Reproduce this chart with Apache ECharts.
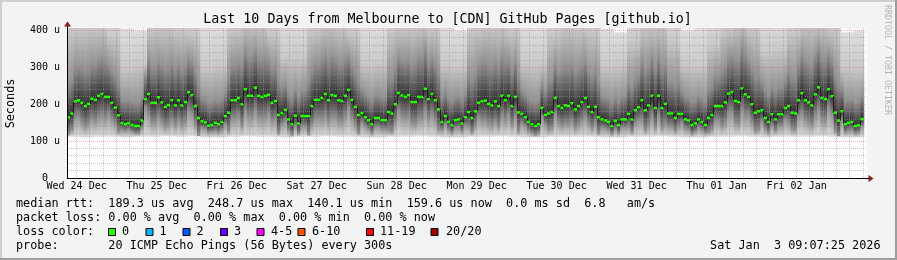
<!DOCTYPE html>
<html><head><meta charset="utf-8">
<script src="https://cdn.jsdelivr.net/npm/echarts@6/dist/echarts.min.js"></script>
<style>html,body{margin:0;padding:0;background:#f3f3f3}#c{width:897px;height:260px}</style>
</head><body><div id="c"></div>
<script>
const FONT = 'DejaVu Sans Mono';

// hourly median RTT (microseconds), Dec 24 09:07 -> Jan 3 09:07
const medianRtt = [
165,175,208,211,204,195,201,215,212,223,228,220,220,204,191,170,149,146,149,144,141,141,156,214,228,204,204,219,205,193,198,211,197,211,197,206,233,225,195,163,
154,151,142,144,150,146,152,168,177,211,211,217,200,241,223,223,245,223,220,223,226,204,209,171,176,185,159,146,169,148,168,168,168,195,212,212,217,228,211,225,223,
211,209,223,239,212,193,171,176,165,157,146,163,163,157,157,179,175,200,231,224,220,225,206,206,220,220,242,214,228,211,186,152,168,152,144,157,159,148,165,179,
163,181,204,208,210,201,197,208,195,223,211,223,195,220,178,174,165,152,146,141,146,190,171,175,179,217,195,190,197,195,203,186,195,206,217,193,179,193,165,159,
156,152,141,155,144,159,159,174,159,184,192,211,184,197,223,190,223,190,201,175,175,163,174,174,159,156,144,148,159,152,144,163,171,195,195,195,205,229,233,209,
206,243,227,220,200,177,181,184,163,152,173,159,173,173,190,195,177,175,211,230,211,205,197,227,246,217,214,241,222,177,156,181,146,150,152,141,143,160];

// smoke distribution, per 4-hour block
const smokeMin = [112,110,112,112,110,112,112,113,112,113,110,110,112,113,112,112,110,112,112,113,112,112,110,110,112,112,113,112,110,110,112,112,113,112,110,110,112,112,112,112,110,110,112,112,113,112,110,110,112,112,113,112,110,112,112,112,113,112,110,110];
const smokeBelow = [45,55,60,45,18,20,55,55,55,50,18,22,50,60,60,50,30,28,50,60,58,50,25,25,50,58,60,55,22,22,40,55,55,52,25,25,45,50,52,45,22,22,35,55,55,35,25,22,40,55,60,50,30,32,45,55,60,50,22,20];
const smokeAbove = [90,95,95,85,62,62,95,100,95,90,62,62,95,105,100,90,70,70,95,105,100,90,62,62,95,95,105,95,65,62,100,105,105,95,62,62,90,105,100,95,62,62,85,105,105,85,62,62,80,95,110,95,75,75,95,105,105,95,62,62];
const smokeQ90 = [405,410,410,385,300,310,410,415,405,395,300,310,405,420,420,395,330,330,405,420,415,395,310,315,405,410,415,405,310,305,405,415,415,400,310,310,395,415,410,400,305,310,375,415,420,375,310,305,365,405,425,405,345,350,400,420,420,405,300,300];
const smokeMax = [490,490,490,470,405,400,490,495,490,480,410,415,490,500,500,480,425,430,490,500,495,480,410,415,490,490,495,480,410,400,490,495,495,480,415,410,480,495,490,480,405,395,460,495,495,465,400,410,460,490,500,490,430,440,485,500,500,490,395,400];

const dayLabels = ['Wed 24 Dec','Thu 25 Dec','Fri 26 Dec','Sat 27 Dec','Sun 28 Dec','Mon 29 Dec','Tue 30 Dec','Wed 31 Dec','Thu 01 Jan','Fri 02 Jan'];
const dayLabelHours = [2.88,26.88,50.88,74.88,98.88,122.88,146.88,170.88,194.88,218.88];
const majorGridHours = [14.88,38.88,62.88,86.88,110.88,134.88,158.88,182.88,206.88,230.88];
const yMajorGrid = [100,200,300,400];
const yMinorGrid = [20,40,60,80,120,140,160,180,220,240,260,280,320,340,360,380];
const lossLegend = [['0','#26ff00'],['1','#00b8ff'],['2','#0059ff'],['3','#5e00ff'],['4-5','#ff00ff'],['6-10','#ff5500'],['11-19','#ff0000'],['20/20','#a10000']];
const lossBoxX = [108,145.5,182.5,220,256.5,297.5,366,430.5];
const lossTextX = [122,159.5,196.5,234,271,312,380,446];

const minorGridHours = [];
for (let h = 2.88; h < 240; h += 4) {
  if (!majorGridHours.some(m => Math.abs(m - h) < 0.01)) minorGridHours.push(+h.toFixed(2));
}

const YMAX = 407;

const smokeData = medianRtt.map((m, i) => {
  const b = Math.floor(i / 4);
  const lo = smokeMin[b];
  const q25 = Math.max(lo + 1, m - smokeBelow[b]);
  const q75 = m + smokeAbove[b];
  const q90 = Math.max(smokeQ90[b], q75 + 5);
  const hi = Math.max(smokeMax[b], q90 + 5);
  return [i, lo, q25, m, q75, q90, hi];
});
const medianData = medianRtt.map((m, i) => [i, m, i > 0 ? medianRtt[i - 1] : m]);

function renderSmoke(params, api) {
  const i = api.value(0);
  const x0 = api.coord([i, 0])[0];
  const x1 = api.coord([i + 1, 0])[0];
  const y = k => api.coord([i, api.value(k)])[1];
  const yLo = y(1), yQ25 = y(2), yMed = y(3), yQ75 = y(4), yQ90 = y(5), yHi = y(6);
  const h = yLo - yHi;
  const off = v => Math.min(1, Math.max(0, (v - yHi) / h));
  const grad = new echarts.graphic.LinearGradient(0, 0, 0, 1, [
    {offset: 0, color: '#dddddd'},
    {offset: off(yQ90), color: '#cacaca'},
    {offset: off(yQ75), color: '#919191'},
    {offset: off(yMed), color: '#323232'},
    {offset: off(yQ25), color: '#919191'},
    {offset: 1, color: '#dddddd'}
  ]);
  return {type: 'rect', shape: {x: x0, y: yHi, width: x1 - x0 + 0.6, height: h}, style: {fill: grad}};
}

function renderMedian(params, api) {
  const i = api.value(0);
  const p = api.coord([i, api.value(1)]);
  const pp = api.coord([i, api.value(2)]);
  const x1 = api.coord([i + 1, 0])[0];
  const xs = Math.floor(p[0]) + 0.5;
  return {type: 'group', children: [
    {type: 'line', shape: {x1: xs, y1: pp[1], x2: xs, y2: p[1]}, style: {stroke: '#202020', lineWidth: 1}},
    {type: 'rect', shape: {x: p[0], y: p[1] - 1.25, width: x1 - p[0], height: 2.5}, style: {fill: '#26ff00'}}
  ]};
}

function vLine(color) {
  return function (params, api) {
    const cs = params.coordSys;
    const x = Math.floor(api.coord([api.value(0), 0])[0]) + 0.5;
    return {type: 'line', shape: {x1: x, y1: cs.y, x2: x, y2: cs.y + cs.height}, style: {stroke: color, lineWidth: 1, lineDash: [1, 1]}};
  };
}
function hLine(color) {
  return function (params, api) {
    const cs = params.coordSys;
    const y = Math.floor(api.coord([0, api.value(1)])[1]) + 0.5;
    return {type: 'line', shape: {x1: cs.x, y1: y, x2: cs.x + cs.width, y2: y}, style: {stroke: color, lineWidth: 1, lineDash: [1, 1]}};
  };
}
const MINOR = 'rgba(150,150,150,0.5)';
const MAJOR = 'rgba(235,80,80,0.42)';

function txt(x, y, text, size) {
  return {type: 'text', x: x, y: y, z: 20, silent: true,
    style: {text: text, fill: '#000', fontFamily: FONT, fontSize: size,
      align: 'left', verticalAlign: 'middle', textAlign: 'left', textVerticalAlign: 'middle'}};
}

const graphics = [
  {type: 'rect', shape: {x: 0, y: 0, width: 897, height: 2}, style: {fill: '#cfcfcf'}, z: 30},
  {type: 'rect', shape: {x: 0, y: 0, width: 2, height: 260}, style: {fill: '#cfcfcf'}, z: 30},
  {type: 'rect', shape: {x: 0, y: 258, width: 897, height: 2}, style: {fill: '#9e9e9e'}, z: 30},
  {type: 'rect', shape: {x: 895, y: 0, width: 2, height: 260}, style: {fill: '#9e9e9e'}, z: 30},
  {type: 'text', x: 447.5, y: 19.5, z: 20, style: {text: 'Last 10 Days from Melbourne to [CDN] GitHub Pages [github.io]', fill: '#000', fontFamily: FONT, fontSize: 13.3, align: 'center', verticalAlign: 'middle', textAlign: 'center', textVerticalAlign: 'middle'}},
  {type: 'text', x: 10.5, y: 103.5, rotation: Math.PI / 2, z: 20, style: {text: 'Seconds', fill: '#000', fontFamily: FONT, fontSize: 11.8, align: 'center', verticalAlign: 'middle', textAlign: 'center', textVerticalAlign: 'middle'}},
  {type: 'text', x: 887.5, y: 5, rotation: -Math.PI / 2, z: 20, style: {text: 'RRDTOOL / TOBI OETIKER', fill: '#b4b4b4', fontFamily: FONT, fontSize: 8.3, align: 'left', verticalAlign: 'middle', textAlign: 'left', textVerticalAlign: 'middle'}},
  txt(16, 203.5, 'median rtt:  189.3 us avg  248.7 us max  140.1 us min  159.6 us now  0.0 ms sd  6.8   am/s', 11.8),
  txt(16, 217.8, 'packet loss: 0.00 % avg  0.00 % max  0.00 % min  0.00 % now', 11.8),
  txt(16, 232.1, 'loss color:', 11.8),
  txt(16, 246.4, 'probe:       20 ICMP Echo Pings (56 Bytes) every 300s', 11.8),
  {type: 'text', x: 880.5, y: 246.4, z: 20, style: {text: 'Sat Jan  3 09:07:25 2026', fill: '#000', fontFamily: FONT, fontSize: 11.8, align: 'right', verticalAlign: 'middle', textAlign: 'right', textVerticalAlign: 'middle'}},
  // axis extensions + arrows
  {type: 'line', z: 20, shape: {x1: 67.5, y1: 28, x2: 67.5, y2: 24}, style: {stroke: '#000', lineWidth: 1}},
  {type: 'line', z: 20, shape: {x1: 867, y1: 178.5, x2: 870, y2: 178.5}, style: {stroke: '#000', lineWidth: 1}},
  {type: 'polygon', z: 21, shape: {points: [[64, 26.5], [71, 26.5], [67.5, 21.5]]}, style: {fill: '#8b1a1a'}},
  {type: 'polygon', z: 21, shape: {points: [[868.5, 175], [868.5, 182], [873.5, 178.5]]}, style: {fill: '#8b1a1a'}}
];
lossLegend.forEach((e, k) => {
  graphics.push({type: 'rect', z: 20, shape: {x: lossBoxX[k] + 0.5, y: 228.5, width: 7, height: 7}, style: {fill: e[1], stroke: '#000', lineWidth: 1}});
  graphics.push(txt(lossTextX[k], 232.1, e[0], 11.8));
});

const chart = echarts.init(document.getElementById('c'), null, {renderer: 'canvas', width: 897, height: 260});
chart.setOption({
  backgroundColor: '#f3f3f3',
  animation: false,
  textStyle: {fontFamily: FONT},
  grid: {left: 67, top: 28, width: 800, height: 150, show: true, backgroundColor: '#ffffff', borderWidth: 0},
  xAxis: {
    type: 'value', min: 0, max: 240, z: 6,
    axisLine: {show: true, onZero: false, lineStyle: {color: '#000', width: 1}},
    axisTick: {show: false},
    splitLine: {show: false},
    axisLabel: {
      customValues: dayLabelHours,
      showMinLabel: true, showMaxLabel: true, hideOverlap: false,
      margin: 3, fontFamily: FONT, fontSize: 10, color: '#000',
      formatter: v => {
        let best = -1, d = 1e9;
        dayLabelHours.forEach((h, k) => { if (Math.abs(h - v) < d) { d = Math.abs(h - v); best = k; } });
        return d < 0.5 ? dayLabels[best] : '';
      }
    }
  },
  yAxis: {
    type: 'value', min: 0, max: YMAX, interval: 100, z: 6,
    axisLine: {show: true, lineStyle: {color: '#000', width: 1}},
    axisTick: {show: false},
    splitLine: {show: false},
    axisLabel: {
      margin: 7, fontFamily: FONT, fontSize: 10, color: '#000',
      formatter: v => v === 0 ? '{z|0}' : (v % 100 === 0 ? v + ' u' : ''),
      rich: {z: {fontFamily: FONT, fontSize: 10, color: '#000', padding: [0, 12, 0, 0]}}
    }
  },
  series: [
    {type: 'custom', name: 'smoke', z: 1, clip: true, silent: true, data: smokeData, encode: {x: 0, y: 3}, renderItem: renderSmoke},
    {type: 'custom', name: 'hminor', z: 3, silent: true, data: yMinorGrid.map(v => [0, v]), encode: {x: 0, y: 1}, renderItem: hLine(MINOR)},
    {type: 'custom', name: 'vminor', z: 3, silent: true, data: minorGridHours.map(h => [h, 0]), encode: {x: 0, y: 1}, renderItem: vLine(MINOR)},
    {type: 'custom', name: 'hmajor', z: 4, silent: true, data: yMajorGrid.map(v => [0, v]), encode: {x: 0, y: 1}, renderItem: hLine(MAJOR)},
    {type: 'custom', name: 'vmajor', z: 4, silent: true, data: majorGridHours.map(h => [h, 0]), encode: {x: 0, y: 1}, renderItem: vLine(MAJOR)},
    {type: 'custom', name: 'median', z: 5, clip: true, silent: true, data: medianData, encode: {x: 0, y: 1}, renderItem: renderMedian}
  ],
  graphic: graphics
});
</script></body></html>
